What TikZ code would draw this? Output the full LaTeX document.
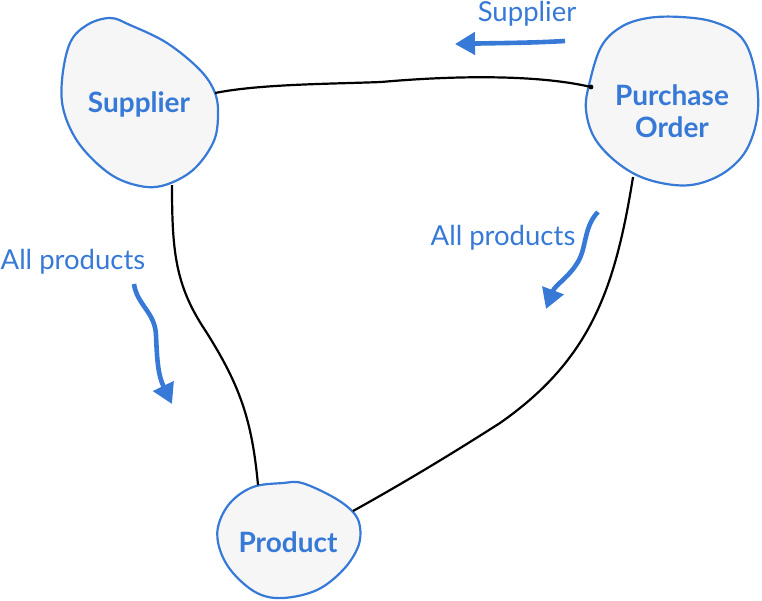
\documentclass[tikz,border=0pt]{standalone}
\usepackage{fontspec}
\setmainfont{Lato}
\usetikzlibrary{arrows.meta}
\definecolor{eblue}{HTML}{3679D6}
\definecolor{blobfill}{HTML}{F6F6F6}
\tikzset{
  blob/.style={draw=eblue, fill=blobfill, line width=2.2pt},
  entity/.style={text=eblue, font=\fontsize{28}{32}\selectfont\bfseries, align=center},
  lbl/.style={text=eblue, font=\fontsize{27.5}{31}\selectfont},
  rel/.style={draw=black, line width=2.2pt},
  flow/.style={draw=eblue, line width=4.6pt, -{Triangle[length=20pt,width=22pt]}},
}
\begin{document}
\begin{tikzpicture}[x=1pt,y=-1pt]
\useasboundingbox (0,0) rectangle (762,600);
% blobs
\path[blob] plot[smooth cycle, tension=0.6] coordinates {
 (110,18) (130,25) (167,43) (200,70) (215,93) (218,117) (213,143) (193,170)
 (165,185) (140,186) (110,174) (80,145) (64,112) (62,80) (70,43) (87,25)};
\path[blob] plot[smooth cycle, tension=0.6] coordinates {
 (681,17) (714,22) (741,37) (754,67) (758,110) (748,147) (728,170) (701,183)
 (674,185) (641,177) (614,160) (594,137) (586,110) (589,85) (601,47) (621,27) (648,18)};
\path[blob] plot[smooth cycle, tension=0.6] coordinates {
 (283,483) (302,483) (333,497) (353,512) (360,527) (358,547) (343,570) (317,590)
 (283,598) (257,593) (233,573) (220,550) (218,527) (230,503) (253,487)};
% entity names
\node[entity] (sup) at (139,104) {Supplier};
\node[entity] (po) at (672,111) {Purchase\\Order};
\node[entity] (prod) at (288,542) {Product};
% attach points
\coordinate (supR) at (215,93);
\coordinate (supB) at (172,185);
\coordinate (poL) at (591,87);
\coordinate (poB) at (633,177);
\coordinate (prodT) at (258,485);
\coordinate (prodR) at (353,511);
% relations
\draw[rel] (supR) .. controls (260,84) and (330,84) .. (381,82)
  .. controls (460,75) and (540,75) .. (poL);
\fill (poL) circle (2.4pt);
\draw[rel] (supB) .. controls (172,250) and (175,285) .. (205,330)
  .. controls (240,385) and (252,420) .. (prodT);
\draw[rel] (poB) .. controls (615,290) and (590,360) .. (500,423)
  .. controls (450,455) and (400,485) .. (prodR);
% labels
\node[lbl] (lsup) at (527,14) {Supplier};
\node[lbl] (lap1) at (503,238) {All products};
\node[lbl] (lap2) at (73,262) {All products};
% flow arrows
\coordinate (a1s) at (565,41);
\coordinate (a1e) at (455,44);
\draw[flow] (a1s) .. controls (530,43) and (500,43) .. (a1e);
\coordinate (a2s) at (598,212);
\coordinate (a2e) at (546,309);
\draw[flow] (a2s) .. controls (585,225) and (586,245) .. (580,258)
  .. controls (572,275) and (555,285) .. (a2e);
\coordinate (a3s) at (134,284);
\coordinate (a3e) at (172,404);
\draw[flow] (a3s) .. controls (137,305) and (155,312) .. (156,335)
  .. controls (157,360) and (158,375) .. (a3e);
\end{tikzpicture}
\end{document}
